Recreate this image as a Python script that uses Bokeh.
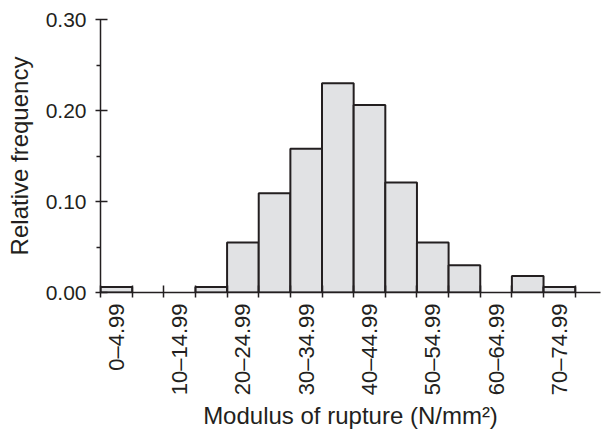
import math
from bokeh.plotting import figure
from bokeh.models import Range1d, FixedTicker, NumeralTickFormatter, ColumnDataSource
from bokeh.embed import file_html
from bokeh.resources import INLINE

# Data
bin_labels = ["0–4.99", "5–9.99", "10–14.99", "15–19.99", "20–24.99", "25–29.99",
              "30–34.99", "35–39.99", "40–44.99", "45–49.99", "50–54.99", "55–59.99",
              "60–64.99", "65–69.99", "70–74.99"]
bin_start = [0, 5, 10, 15, 20, 25, 30, 35, 40, 45, 50, 55, 60, 65, 70]
bin_width = 5
rel_freq = [0.006, 0.0, 0.0, 0.006, 0.055, 0.109, 0.158, 0.230, 0.206,
            0.121, 0.055, 0.030, 0.0, 0.018, 0.006]
y_ticks = [0.0, 0.10, 0.20, 0.30]
y_minor = [0.05, 0.15, 0.25]

FONT = "Liberation Sans"
INK = "#231f20"

p = figure(width=603, height=432, output_backend="svg", toolbar_location=None,
           x_range=Range1d(0, 79), y_range=Range1d(0, 0.30),
           min_border_left=100, min_border_right=3, min_border_top=19,
           min_border_bottom=140)
p.outline_line_color = None
p.xgrid.grid_line_color = None
p.ygrid.grid_line_color = None
p.background_fill_color = "white"
p.border_fill_color = "white"

src = ColumnDataSource(dict(
    left=[s for s, f in zip(bin_start, rel_freq) if f > 0],
    right=[s + bin_width for s, f in zip(bin_start, rel_freq) if f > 0],
    top=[f for f in rel_freq if f > 0],
))
p.quad(left="left", right="right", bottom=0, top="top", source=src,
       fill_color="#e1e2e4", line_color=INK, line_width=2)

# X axis: labels at centres of every other bin, tick marks at bin edges
centers = [s + bin_width / 2 for s in bin_start]
lab_idx = list(range(0, len(bin_labels), 2))
edges = bin_start + [bin_start[-1] + bin_width]
xa = p.xaxis[0]
xa.ticker = FixedTicker(ticks=[centers[i] for i in lab_idx], minor_ticks=edges)
xa.major_label_overrides = {centers[i]: bin_labels[i] for i in lab_idx}
xa.major_label_orientation = math.pi / 2
xa.major_tick_in = 0
xa.major_tick_out = 0
xa.minor_tick_in = 7
xa.minor_tick_out = 5
xa.minor_tick_line_color = INK
xa.minor_tick_line_width = 1.5
xa.axis_line_color = INK
xa.axis_line_width = 1.5
xa.major_label_standoff = 6
xa.major_label_text_font = FONT
xa.major_label_text_font_size = "22px"
xa.major_label_text_color = INK
xa.axis_label = "Modulus of rupture (N/mm²)"
xa.axis_label_text_font = FONT
xa.axis_label_text_font_size = "24px"
xa.axis_label_text_font_style = "normal"
xa.axis_label_text_color = INK
xa.axis_label_standoff = 4

ya = p.yaxis[0]
ya.ticker = FixedTicker(ticks=y_ticks, minor_ticks=y_minor)
ya.formatter = NumeralTickFormatter(format="0.00")
ya.major_tick_in = 7
ya.major_tick_out = 5
ya.minor_tick_in = 0
ya.minor_tick_out = 4
ya.major_tick_line_color = INK
ya.minor_tick_line_color = INK
ya.major_tick_line_width = 1.5
ya.minor_tick_line_width = 1.5
ya.axis_line_color = INK
ya.axis_line_width = 1.5
ya.major_label_standoff = 9
ya.major_label_text_font = FONT
ya.major_label_text_font_size = "21px"
ya.major_label_text_color = INK
ya.axis_label = "Relative frequency"
ya.axis_label_text_font = FONT
ya.axis_label_text_font_size = "24px"
ya.axis_label_text_font_style = "normal"
ya.axis_label_text_color = INK
ya.axis_label_standoff = 10

open("out.html", "w").write(file_html(p, INLINE))
